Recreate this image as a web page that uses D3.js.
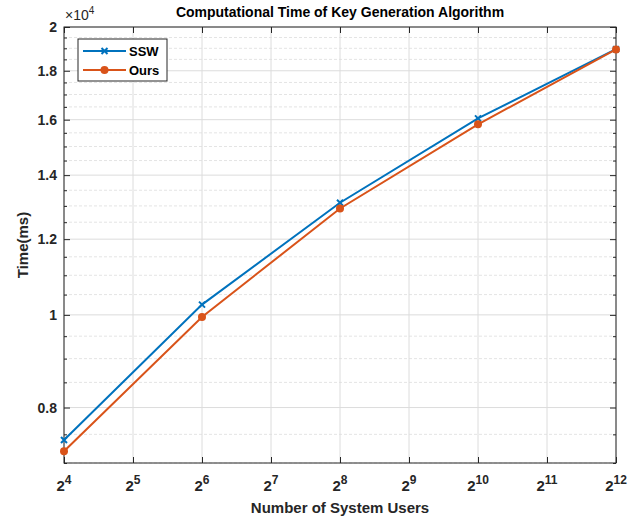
<!DOCTYPE html>
<html>
<head>
<meta charset="utf-8">
<script src="https://cdn.jsdelivr.net/npm/d3@7"></script>
<style>
  body { margin: 0; background: #fff; }
  svg { font-family: "Liberation Sans", Arial, sans-serif; }
  .tick-label { font-weight: bold; fill: #262626; }
</style>
</head>
<body>
<div id="chart"></div>
<script>
// data
var users = [16, 64, 256, 1024, 4096];
var ssw = [7400, 10250, 13100, 16050, 18960];
var ours = [7200, 9950, 12920, 15820, 18950];
var xExps = [4, 5, 6, 7, 8, 9, 10, 11, 12];
var yMajor = [8000, 10000, 12000, 14000, 16000, 18000, 20000];
var yLabels = ["0.8", "1", "1.2", "1.4", "1.6", "1.8", "2"];

var width = 629, height = 524;
var plotLeft = 64, plotRight = 616, plotTop = 27, plotBottom = 463;

var svg = d3.select("#chart").append("svg")
  .attr("width", width)
  .attr("height", height);

var xScale = d3.scaleLog().base(2)
  .domain([16, 4096])
  .range([plotLeft, plotRight]);

var yScale = d3.scaleLog()
  .domain([7000, 20000])
  .range([plotBottom, plotTop]);

var yMinor = d3.range(7000, 20001, 500).filter(function (v) { return yMajor.indexOf(v) < 0; });

// minor grid
svg.append("g")
  .selectAll("line")
  .data(yMinor)
  .enter()
  .append("line")
  .attr("x1", plotLeft).attr("x2", plotRight)
  .attr("y1", function (d) { return yScale(d); })
  .attr("y2", function (d) { return yScale(d); })
  .attr("stroke", "#e4e4e4")
  .attr("stroke-dasharray", "3,2")
  .attr("stroke-width", 1);

// major grid
svg.append("g")
  .selectAll("line")
  .data(yMajor)
  .enter()
  .append("line")
  .attr("x1", plotLeft).attr("x2", plotRight)
  .attr("y1", function (d) { return yScale(d); })
  .attr("y2", function (d) { return yScale(d); })
  .attr("stroke", "#dcdcdc")
  .attr("stroke-width", 1);

svg.append("g")
  .selectAll("line")
  .data(xExps)
  .enter()
  .append("line")
  .attr("x1", function (d) { return xScale(Math.pow(2, d)); })
  .attr("x2", function (d) { return xScale(Math.pow(2, d)); })
  .attr("y1", plotTop).attr("y2", plotBottom)
  .attr("stroke", "#dcdcdc")
  .attr("stroke-width", 1);

// axes with inward ticks
var axisColor = "#262626";
function styleAxis(g) {
  g.select(".domain").remove();
  g.selectAll(".tick line").attr("stroke", axisColor);
  g.selectAll(".tick text").remove();
}

var xTickVals = xExps.map(function (e) { return Math.pow(2, e); });
svg.append("g")
  .attr("transform", "translate(0," + plotBottom + ")")
  .call(d3.axisTop(xScale).tickValues(xTickVals).tickSize(6))
  .call(styleAxis);
svg.append("g")
  .attr("transform", "translate(0," + plotTop + ")")
  .call(d3.axisBottom(xScale).tickValues(xTickVals).tickSize(6))
  .call(styleAxis);
svg.append("g")
  .attr("transform", "translate(" + plotLeft + ",0)")
  .call(d3.axisRight(yScale).tickValues(yMajor).tickSize(6))
  .call(styleAxis);
svg.append("g")
  .attr("transform", "translate(" + plotRight + ",0)")
  .call(d3.axisLeft(yScale).tickValues(yMajor).tickSize(6))
  .call(styleAxis);
svg.append("g")
  .attr("transform", "translate(" + plotLeft + ",0)")
  .call(d3.axisRight(yScale).tickValues(yMinor).tickSize(3))
  .call(styleAxis);
svg.append("g")
  .attr("transform", "translate(" + plotRight + ",0)")
  .call(d3.axisLeft(yScale).tickValues(yMinor).tickSize(3))
  .call(styleAxis);

svg.append("rect")
  .attr("x", plotLeft).attr("y", plotTop)
  .attr("width", plotRight - plotLeft).attr("height", plotBottom - plotTop)
  .attr("fill", "none")
  .attr("stroke", axisColor)
  .attr("stroke-width", 1);

// tick labels
svg.append("g")
  .selectAll("text")
  .data(yMajor)
  .enter()
  .append("text")
  .attr("class", "tick-label")
  .attr("x", plotLeft - 7)
  .attr("y", function (d) { return yScale(d) + 5; })
  .attr("text-anchor", "end")
  .style("font-size", "14px")
  .text(function (d, i) { return yLabels[i]; });

var xl = svg.append("g")
  .selectAll("text")
  .data(xExps)
  .enter()
  .append("text")
  .attr("class", "tick-label")
  .attr("x", function (d) { return xScale(Math.pow(2, d)); })
  .attr("y", 491)
  .attr("text-anchor", "middle")
  .style("font-size", "15px");
xl.append("tspan").text("2");
xl.append("tspan")
  .attr("dy", -7)
  .style("font-size", "12px")
  .text(function (d) { return d; });

// exponent
var ex = svg.append("text")
  .attr("x", 65)
  .attr("y", 20)
  .style("font-size", "14px")
  .attr("fill", axisColor);
ex.append("tspan").text("\u00d710");
ex.append("tspan").attr("dy", -6).style("font-size", "10px").text("4");

// title and labels
svg.append("text")
  .attr("x", (plotLeft + plotRight) / 2)
  .attr("y", 17)
  .attr("text-anchor", "middle")
  .style("font-size", "14px")
  .style("font-weight", "bold")
  .attr("fill", "#000")
  .text("Computational Time of Key Generation Algorithm");

svg.append("text")
  .attr("x", (plotLeft + plotRight) / 2)
  .attr("y", 513)
  .attr("text-anchor", "middle")
  .style("font-size", "15px")
  .style("font-weight", "bold")
  .attr("fill", axisColor)
  .text("Number of System Users");

svg.append("text")
  .attr("transform", "translate(28," + ((plotTop + plotBottom) / 2) + ") rotate(-90)")
  .attr("text-anchor", "middle")
  .style("font-size", "15px")
  .style("font-weight", "bold")
  .attr("fill", axisColor)
  .text("Time(ms)");

// lines
var line = d3.line()
  .x(function (d) { return xScale(d[0]); })
  .y(function (d) { return yScale(d[1]); });

var series = [
  { name: "SSW", values: ssw, color: "#0072BD", marker: "x" },
  { name: "Ours", values: ours, color: "#D95319", marker: "o" }
];

function drawMarker(g, s, cx, cy) {
  if (s.marker === "x") {
    g.append("path")
      .attr("d", "M" + (cx - 3) + "," + (cy - 3) + "L" + (cx + 3) + "," + (cy + 3) +
        "M" + (cx - 3) + "," + (cy + 3) + "L" + (cx + 3) + "," + (cy - 3))
      .attr("stroke", s.color)
      .attr("stroke-width", 2);
  } else {
    g.append("circle")
      .attr("cx", cx).attr("cy", cy).attr("r", 4)
      .attr("fill", s.color);
  }
}

series.forEach(function (s) {
  var pts = users.map(function (u, i) { return [u, s.values[i]]; });
  var g = svg.append("g");
  g.append("path")
    .attr("d", line(pts))
    .attr("fill", "none")
    .attr("stroke", s.color)
    .attr("stroke-width", 2);
  pts.forEach(function (p) {
    drawMarker(g, s, xScale(p[0]), yScale(p[1]));
  });
});

// legend
var lg = svg.append("g");
lg.append("rect")
  .attr("x", 78).attr("y", 39)
  .attr("width", 89).attr("height", 42)
  .attr("fill", "#fff")
  .attr("stroke", axisColor)
  .attr("stroke-width", 1);
series.forEach(function (s, i) {
  var y = 51 + i * 19;
  lg.append("line")
    .attr("x1", 83).attr("x2", 126)
    .attr("y1", y).attr("y2", y)
    .attr("stroke", s.color)
    .attr("stroke-width", 2);
  drawMarker(lg, s, 104.5, y);
  lg.append("text")
    .attr("x", 129)
    .attr("y", y + 5)
    .style("font-size", "13px")
    .style("font-weight", "bold")
    .attr("fill", "#000")
    .text(s.name);
});
</script>
</body>
</html>
